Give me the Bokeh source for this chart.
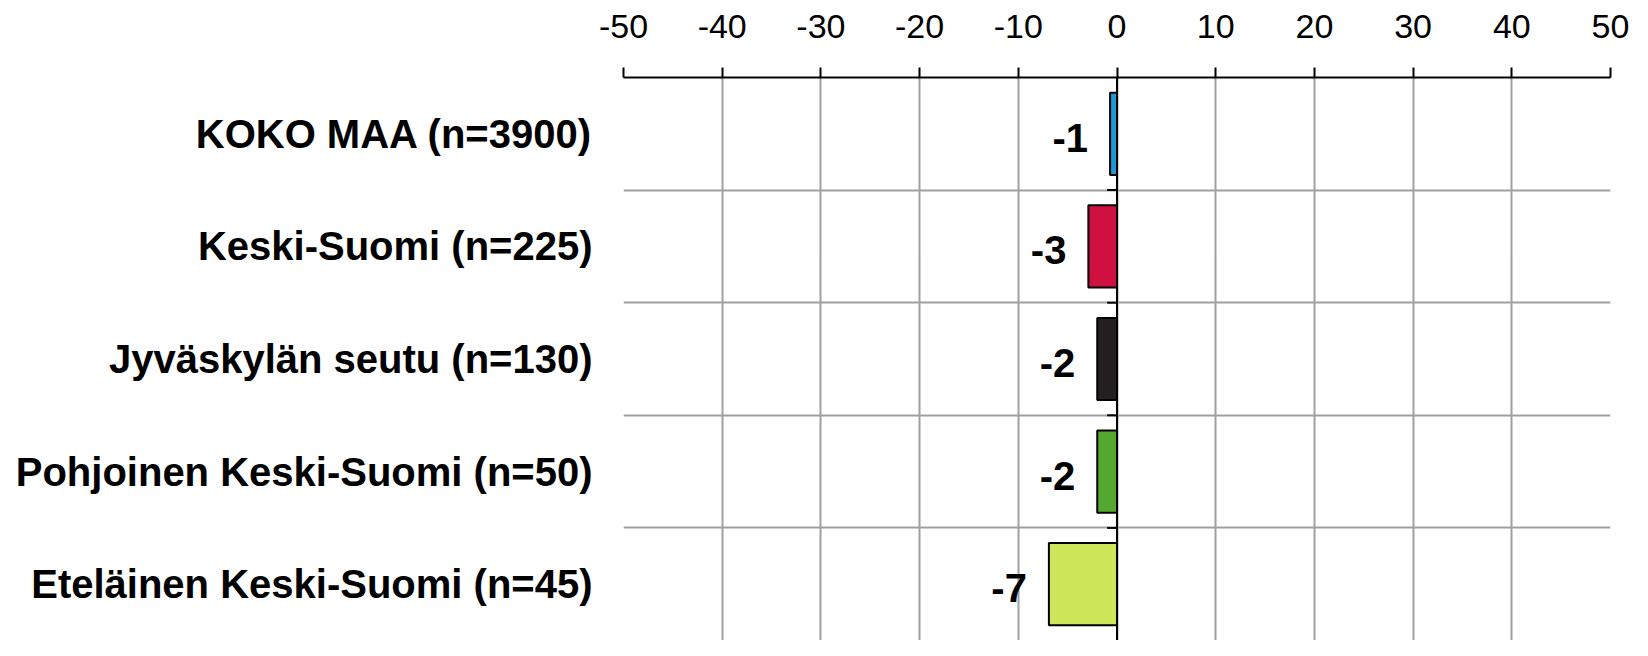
from bokeh.plotting import figure
from bokeh.models import Range1d, FixedTicker, ColumnDataSource, Span
from bokeh.core.properties import value
from bokeh.embed import file_html
from bokeh.resources import INLINE

categories = ["KOKO MAA (n=3900)", "Keski-Suomi (n=225)", "Jyväskylän seutu (n=130)",
              "Pohjoinen Keski-Suomi (n=50)", "Eteläinen Keski-Suomi (n=45)"]
values = [-0.7, -2.9, -2.0, -2.0, -6.9]
colors = ["#1b9ad6", "#cf1040", "#231f20", "#55a82f", "#cde65a"]
x_ticks = [-50, -40, -30, -20, -10, 0, 10, 20, 30, 40, 50]

n = len(categories)
ypos = [i + 0.5 for i in range(n)]
labels = [str(int(round(v))) for v in values]

FONT = "Liberation Sans"

p = figure(width=1632, height=640, output_backend="svg", toolbar_location=None,
           x_range=Range1d(-50, 50), y_range=Range1d(n, 0),
           x_axis_location="above", min_border_left=623, min_border_right=22,
           min_border_top=77, min_border_bottom=0)
p.outline_line_color = None
p.background_fill_color = "white"

# x axis (top)
xa = p.xaxis[0]
xa.ticker = FixedTicker(ticks=x_ticks)
xa.major_label_overrides = {t: str(t) for t in x_ticks}
xa.minor_tick_line_color = None
xa.major_tick_out = 10
xa.major_tick_in = 0
xa.major_tick_line_width = 2
xa.axis_line_width = 2
xa.axis_line_color = "black"
xa.major_tick_line_color = "black"
xa.major_label_text_font = FONT
xa.major_label_text_font_size = "34px"
xa.major_label_text_color = "black"
xa.major_label_standoff = 30

# y axis (labels on the left)
ya = p.yaxis[0]
ya.ticker = FixedTicker(ticks=ypos)
ya.major_label_overrides = {y: c for y, c in zip(ypos, categories)}
ya.axis_line_color = None
ya.major_tick_line_color = None
ya.minor_tick_line_color = None
ya.major_label_text_font = FONT
ya.major_label_text_font_style = "bold"
ya.major_label_text_font_size = "40px"
ya.major_label_text_color = "black"
ya.major_label_standoff = 25

# grids
p.xgrid.ticker = FixedTicker(ticks=x_ticks)
p.xgrid.grid_line_color = "#a0a0a0"
p.xgrid.grid_line_width = 2
p.ygrid.ticker = FixedTicker(ticks=list(range(1, n)))
p.ygrid.grid_line_color = "#a0a0a0"
p.ygrid.grid_line_width = 2

src = ColumnDataSource(dict(y=ypos, v=values, c=colors, lab=labels,
                            zero=[0] * n))
p.hbar(y="y", left="v", right="zero", height=0.73, fill_color="c",
       line_color="black", line_width=2, source=src)

# zero line
p.add_layout(Span(location=0, dimension="height", line_color="black", line_width=2))

# small ticks at zero on category boundaries
bnd = list(range(1, n))
p.segment(x0=[-1] * len(bnd), x1=[0] * len(bnd), y0=bnd, y1=bnd,
          line_color="black", line_width=2)

p.text(x="v", y="y", text="lab", source=src, text_font=value(FONT),
       text_font_style="bold", text_font_size="40px", text_align="right",
       text_baseline="middle", x_offset=-22, y_offset=4, text_color="black")

open("out.html", "w").write(file_html(p, INLINE))
